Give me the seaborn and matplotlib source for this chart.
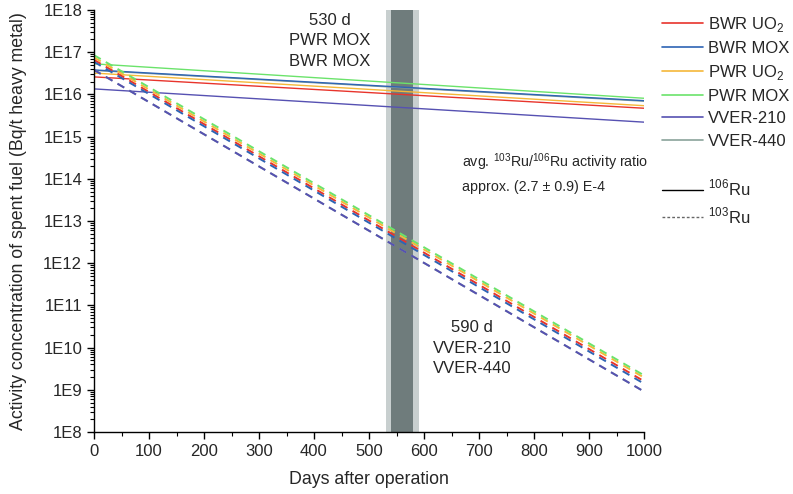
import numpy as np
import pandas as pd
import matplotlib
matplotlib.use('Agg')
import matplotlib.pyplot as plt
import seaborn as sns
from matplotlib.lines import Line2D
from matplotlib.ticker import FuncFormatter, LogLocator, NullFormatter, MultipleLocator
from matplotlib.transforms import blended_transform_factory

# Fuel types and their colours
fuels = ['BWR UO2', 'BWR MOX', 'PWR UO2', 'PWR MOX', 'VVER-210', 'VVER-440']
colors = ['#e8342c', '#2e64b4', '#f5b839', '#6be36b', '#5651b2', '#8aa39b']
fuel_labels = [r'BWR UO$_\mathregular{2}$', 'BWR MOX', r'PWR UO$_\mathregular{2}$',
               'PWR MOX', 'VVER-210', 'VVER-440']

days = [0, 1000]
ru106_day0 = [2.6e16, 3.8e16, 3.2e16, 5.3e16, 1.35e16, 3.7e16]
ru106_day1000 = [4.7e15, 7.1e15, 5.4e15, 8.1e15, 2.2e15, 6.9e15]
ru103_day0 = [6.6e16, 5.9e16, 7.5e16, 8.5e16, 3.8e16, 3.8e16]
ru103_day1000 = [1.6e9, 1.4e9, 1.95e9, 2.2e9, 9.1e8, 9.1e8]

# Time windows where measured ratio is reached
band_outer = [530, 590]
band_inner = [540, 580]

rows = []
for i, f in enumerate(fuels):
    rows.append((f, '106Ru', days[0], ru106_day0[i]))
    rows.append((f, '106Ru', days[1], ru106_day1000[i]))
    rows.append((f, '103Ru', days[0], ru103_day0[i]))
    rows.append((f, '103Ru', days[1], ru103_day1000[i]))
df = pd.DataFrame(rows, columns=['fuel', 'nuclide', 'day', 'activity'])

sns.set_style('ticks')
plt.rcParams['font.family'] = ['Liberation Sans', 'DejaVu Sans']
plt.rcParams['mathtext.fontset'] = 'custom'
plt.rcParams['mathtext.rm'] = 'Liberation Sans'

fig = plt.figure(figsize=(7.93, 4.94), dpi=100)
ax = fig.add_axes([94 / 793, 1 - 432 / 494, 550 / 793, 422 / 494])

ax.axvspan(*band_outer, color='#c8cfcf', lw=0, zorder=0)
ax.axvspan(*band_inner, color='#6f7c7c', lw=0, zorder=0)

palette = dict(zip(fuels, colors))
order = ['VVER-440', 'BWR UO2', 'PWR UO2', 'BWR MOX', 'PWR MOX', 'VVER-210']
sns.lineplot(data=df[df['nuclide'] == '106Ru'], x='day', y='activity', hue='fuel',
             hue_order=order, palette=palette, lw=1.0, legend=False, ax=ax)
sns.lineplot(data=df[df['nuclide'] == '103Ru'], x='day', y='activity', hue='fuel',
             hue_order=order, palette=palette, lw=1.4, legend=False, ax=ax)
for line in ax.lines[len(order):]:
    line.set_dashes((4.0, 3.0))

ax.set_yscale('log')
ax.set_xlim(0, 1000)
ax.set_ylim(1e8, 1e18)
ax.yaxis.set_major_locator(LogLocator(base=10, numticks=20))
ax.yaxis.set_minor_locator(LogLocator(base=10, subs=np.arange(2, 10), numticks=200))
ax.yaxis.set_major_formatter(FuncFormatter(lambda v, p: f'1E{int(round(np.log10(v)))}'))
ax.yaxis.set_minor_formatter(NullFormatter())
ax.xaxis.set_major_locator(MultipleLocator(100))
ax.xaxis.set_minor_locator(MultipleLocator(50))
ax.xaxis.offsetText.set_visible(False)
ax.yaxis.offsetText.set_visible(False)
sns.despine(ax=ax)
for s in ['left', 'bottom']:
    ax.spines[s].set_color('black')
    ax.spines[s].set_linewidth(1.0)
ax.tick_params(which='major', direction='out', length=5, width=1, color='black', labelsize=12)
ax.tick_params(which='minor', direction='out', length=3, width=0.8, color='black')

ax.set_xlabel('Days after operation', fontsize=12.8, labelpad=9)
ax.set_ylabel('Activity concentration of spent fuel (Bq/t heavy metal)', fontsize=12.8,
              labelpad=12)

trans = blended_transform_factory(ax.transData, ax.transAxes)
ax.text(429, 0.993, '530 d\nPWR MOX\nBWR MOX', transform=trans, ha='center', va='top',
        fontsize=12, linespacing=1.45)
ax.text(688, 0.265, '590 d\nVVER-210\nVVER-440', transform=trans, ha='center', va='top',
        fontsize=12, linespacing=1.45)
ax.text(669, 0.640, r'avg. $^{\mathregular{103}}$Ru/$^{\mathregular{106}}$Ru activity ratio',
        transform=trans, ha='left', va='center', fontsize=10.3)
ax.text(669, 0.581, 'approx. (2.7 ± 0.9) E-4', transform=trans, ha='left', va='center',
        fontsize=10.3)

handles = [Line2D([], [], color=c, lw=1.2) for c in colors]
handles.append(Line2D([], [], color='none'))
handles.append(Line2D([], [], color='black', lw=1.0))
handles.append(Line2D([], [], color='#666666', lw=1.0, dashes=(2, 1.5)))
labels = fuel_labels + ['', r'$^{\mathregular{106}}$Ru', r'$^{\mathregular{103}}$Ru']
fig.legend(handles, labels, loc='upper left', bbox_to_anchor=(655 / 793, 1 - 8 / 494),
           frameon=False, fontsize=12, handlelength=2.5, handletextpad=0.3,
           labelspacing=0.43, borderaxespad=0)

fig.savefig('out.png', dpi=100)
